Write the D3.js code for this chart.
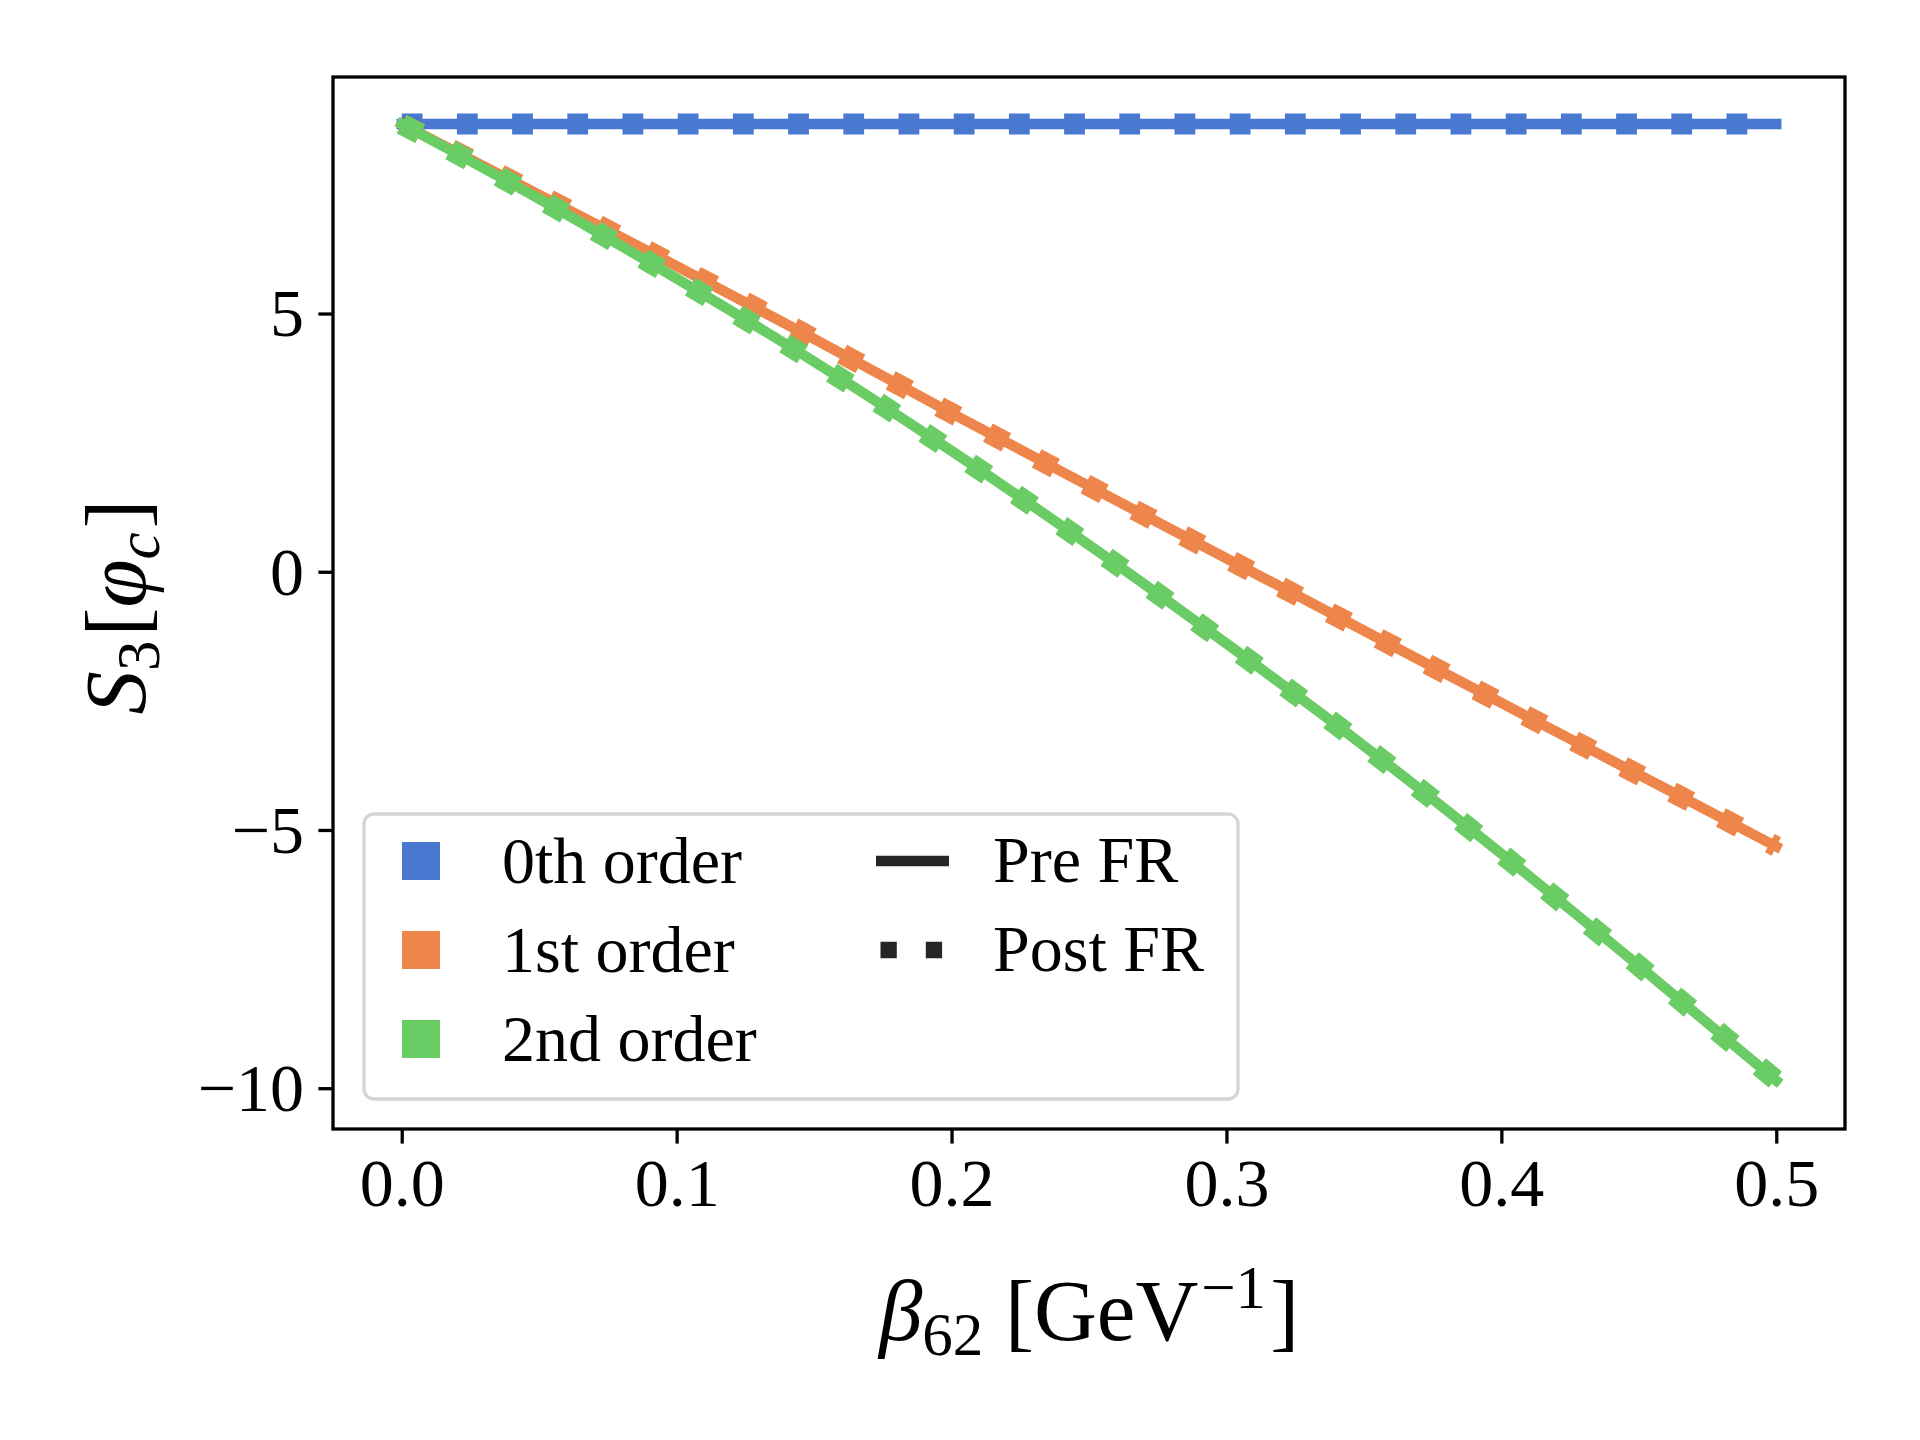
<!DOCTYPE html>
<html>
<head>
<meta charset="utf-8">
<script src="https://cdn.jsdelivr.net/npm/d3@7"></script>
<style>
  body { margin: 0; background: #fff; }
  svg { display: block; }
  text { font-family: "Liberation Serif", "DejaVu Serif", serif; fill: #000; }
</style>
</head>
<body>
<div id="chart"></div>
<script>
// Values
const beta = [0, 0.05, 0.1, 0.15, 0.2, 0.25, 0.3, 0.35, 0.4, 0.45, 0.5];
const order0 = [8.67, 8.67, 8.67, 8.67, 8.67, 8.67, 8.67, 8.67, 8.67, 8.67, 8.67];
const order1 = [8.67, 7.30, 5.92, 4.51, 3.07, 1.66, 0.26, -1.14, -2.54, -3.93, -5.32];
const order2 = [8.67, 7.22, 5.68, 4.07, 2.34, 0.52, -1.39, -3.37, -5.46, -7.63, -9.85];

const orderNames = ["0th order", "1st order", "2nd order"];
const orderColors = ["#4878d0", "#ee854a", "#6acc64"];
const styleNames = ["Pre FR", "Post FR"];

const xTicks = [0, 0.1, 0.2, 0.3, 0.4, 0.5];
const yTicks = [-10, -5, 0, 5];

// Figure and axes box (pixels)
const width = 1920, height = 1440;
const margin = { top: 77, right: 75, bottom: 311, left: 333 };
const plotW = width - margin.left - margin.right;
const plotH = height - margin.top - margin.bottom;

const svg = d3.select("#chart").append("svg")
    .attr("width", width)
    .attr("height", height);

const x = d3.scaleLinear().domain([-0.025, 0.525]).range([margin.left, margin.left + plotW]);
const y = d3.scaleLinear().domain([-10.79, 9.58]).range([margin.top + plotH, margin.top]);

// Clip for the lines
svg.append("clipPath").attr("id", "clip")
  .append("rect")
    .attr("x", margin.left).attr("y", margin.top)
    .attr("width", plotW).attr("height", plotH);

const series = [order0, order1, order2].map((vals, i) => ({
  name: orderNames[i],
  color: orderColors[i],
  points: beta.map((b, j) => [b, vals[j]])
}));

const line = d3.line()
    .x(d => x(d[0]))
    .y(d => y(d[1]))
    .curve(d3.curveMonotoneX);

const lines = svg.append("g").attr("clip-path", "url(#clip)");

series.forEach(s => {
  // Pre FR: solid
  lines.append("path")
      .attr("d", line(s.points))
      .attr("fill", "none")
      .attr("stroke", s.color)
      .attr("stroke-width", 10.4)
      .attr("stroke-linecap", "square")
      .attr("stroke-linejoin", "round");
  // Post FR: dotted, thicker
  lines.append("path")
      .attr("d", line(s.points))
      .attr("fill", "none")
      .attr("stroke", s.color)
      .attr("stroke-width", 20.8)
      .attr("stroke-dasharray", "20.8 34.4")
      .attr("stroke-linecap", "butt");
});

// Axes
const xAxis = svg.append("g")
    .attr("transform", `translate(0,${margin.top + plotH})`)
    .call(d3.axisBottom(x).tickValues(xTicks).tickFormat(d3.format(".1f"))
      .tickSize(14.6).tickSizeOuter(0));
xAxis.select(".domain").remove();
xAxis.selectAll(".tick line").attr("stroke", "#000").attr("stroke-width", 3.3);
xAxis.selectAll(".tick text")
    .attr("y", 77).attr("dy", 0)
    .style("font-size", "68px")
    .style("font-family", "Liberation Serif, DejaVu Serif, serif");

const yAxis = svg.append("g")
    .attr("transform", `translate(${margin.left},0)`)
    .call(d3.axisLeft(y).tickValues(yTicks).tickFormat(d3.format("d"))
      .tickSize(14.6).tickSizeOuter(0));
yAxis.select(".domain").remove();
yAxis.selectAll(".tick line").attr("stroke", "#000").attr("stroke-width", 3.3);
yAxis.selectAll(".tick text")
    .attr("x", -29).attr("dy", "0.33em")
    .style("font-size", "68px")
    .style("font-family", "Liberation Serif, DejaVu Serif, serif");

// Spines
svg.append("rect")
    .attr("x", margin.left).attr("y", margin.top)
    .attr("width", plotW).attr("height", plotH)
    .attr("fill", "none")
    .attr("stroke", "#000")
    .attr("stroke-width", 3.3);

// Axis labels
const xLabel = svg.append("text")
    .attr("x", margin.left + plotW / 2)
    .attr("y", 1340)
    .attr("text-anchor", "middle")
    .style("font-size", "87px");
xLabel.append("tspan").style("font-style", "italic").text("β");
xLabel.append("tspan").attr("dy", 15).style("font-size", "61px").text("62");
xLabel.append("tspan").attr("dy", -15).text(" [GeV");
xLabel.append("tspan").attr("dy", -32).attr("dx", 3).style("font-size", "61px").text("−1");
xLabel.append("tspan").attr("dy", 32).attr("dx", 4).text("]");

const yLabel = svg.append("text")
    .attr("transform", `translate(145,${margin.top + plotH / 2 + 4}) rotate(-90)`)
    .attr("text-anchor", "middle")
    .style("font-size", "87px");
yLabel.append("tspan").style("font-style", "italic").text("S");
yLabel.append("tspan").attr("dy", 14).style("font-size", "61px").text("3");
yLabel.append("tspan").attr("dy", -14).attr("dx", 4).text("[");
yLabel.append("tspan").style("font-style", "italic").text("φ");
yLabel.append("tspan").attr("dy", 14).style("font-size", "61px").style("font-style", "italic").text("c");
yLabel.append("tspan").attr("dy", -14).attr("dx", 4).text("]");

// Legend
const legend = svg.append("g");
legend.append("rect")
    .attr("x", 364).attr("y", 814)
    .attr("width", 874).attr("height", 285)
    .attr("rx", 10).attr("ry", 10)
    .attr("fill", "#fff").attr("fill-opacity", 0.8)
    .attr("stroke", "#d5d5d5").attr("stroke-width", 3.3);

const rowGap = 89;
orderNames.forEach((name, i) => {
  const cy = 861 + i * rowGap;
  legend.append("rect")
      .attr("x", 402).attr("y", cy - 19)
      .attr("width", 38).attr("height", 38)
      .attr("fill", orderColors[i]);
  legend.append("text")
      .attr("x", 502).attr("y", cy + 22)
      .style("font-size", "66px")
      .text(name);
});

styleNames.forEach((name, i) => {
  const cy = 861 + i * rowGap;
  const h = legend.append("line")
      .attr("y1", cy).attr("y2", cy)
      .attr("stroke", "#262626");
  if (i === 0) {
    h.attr("x1", 876).attr("x2", 949).attr("stroke-width", 10.4);
  } else {
    h.attr("x1", 880.5).attr("x2", 945)
      .attr("stroke-width", 16.5)
      .attr("stroke-dasharray", "16.3 29");
  }
  legend.append("text")
      .attr("x", 993).attr("y", cy + 21)
      .style("font-size", "66px")
      .text(name);
});
</script>
</body>
</html>
